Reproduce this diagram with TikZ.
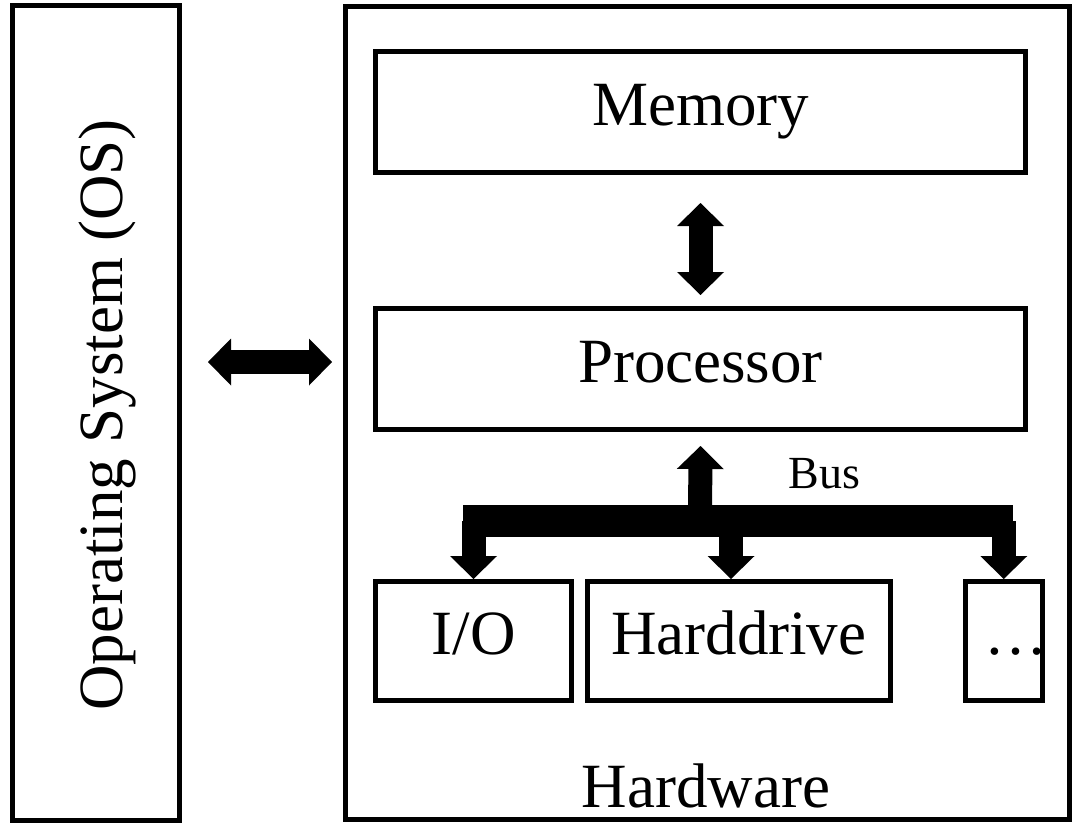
\documentclass[tikz,border=0pt]{standalone}
\usepackage{fontspec}
\setmainfont{Liberation Serif}
\usetikzlibrary{arrows.meta,calc}
\begin{document}
\begin{tikzpicture}[x=1pt,y=-1pt,
  box/.style={draw=black,line width=5pt,inner sep=0pt,
    font=\fontsize{63}{63}\selectfont,text height=40pt,text depth=14pt},
  lbl/.style={inner sep=0pt,font=\fontsize{63}{63}\selectfont},
  fat/.style={line width=24pt,
    {Triangle[width=47pt,length=23pt,line width=0pt]}-{Triangle[width=47pt,length=23pt,line width=0pt]}},
  fatto/.style={line width=24pt,-{Triangle[width=47pt,length=23pt,line width=0pt]}}]
\useasboundingbox (0,0) rectangle (1073,822);

% operating system column
\node[box,minimum width=167pt,minimum height=814.5pt] (os) at (96,412.75) {};
\node[lbl,rotate=90,anchor=base] (ostext) at (122,415) {Operating System (OS)};

% hardware frame and its parts
\node[box,minimum width=724.5pt,minimum height=813pt] (hw) at (707.25,413) {};
\node[lbl,anchor=base] (hwtext) at (706,807) {Hardware};

\node[box,minimum width=650pt,minimum height=121pt] (mem) at (700.5,112) {Memory};
\node[box,minimum width=650pt,minimum height=121pt] (proc) at (700.5,369) {Processor};

\node[box,minimum width=196pt,minimum height=119pt] (io) at (473.5,641) {I/O};
\node[box,minimum width=302.5pt,minimum height=119pt] (hd) at (738.75,641) {Harddrive};
\node[box,minimum width=77.5pt,minimum height=119pt] (more) at (1003.75,641) {};
\node[lbl,text height=40pt,text depth=14pt] (moretext) at (1016,641) {…};

% OS <-> hardware
\draw[fat] ($(os.east |- proc.center)+(26,-7)$) -- ($(hw.west |- proc.center)+(-10.5,-7)$);

% memory <-> processor
\draw[fat] ([yshift=-28pt]mem.south) -- ([yshift=11pt]proc.north);

% bus
\coordinate (busL) at (463,521);
\coordinate (busR) at (1013,521);
\coordinate (busM) at (700,521);
\draw[line width=32pt] (busL) -- (busR);
\draw[fatto] (busM) -- ([yshift=-14pt]proc.south);
\draw[fatto] (io.north |- busM) -- (io.north);
\draw[fatto] ([xshift=-7.75pt]hd.north |- busM) -- ([xshift=-7.75pt]hd.north);
\draw[fatto] (more.north |- busM) -- (more.north);
\node[inner sep=0pt,anchor=base,font=\fontsize{46}{46}\selectfont] (bus) at (824.5,488) {Bus};
\end{tikzpicture}
\end{document}
